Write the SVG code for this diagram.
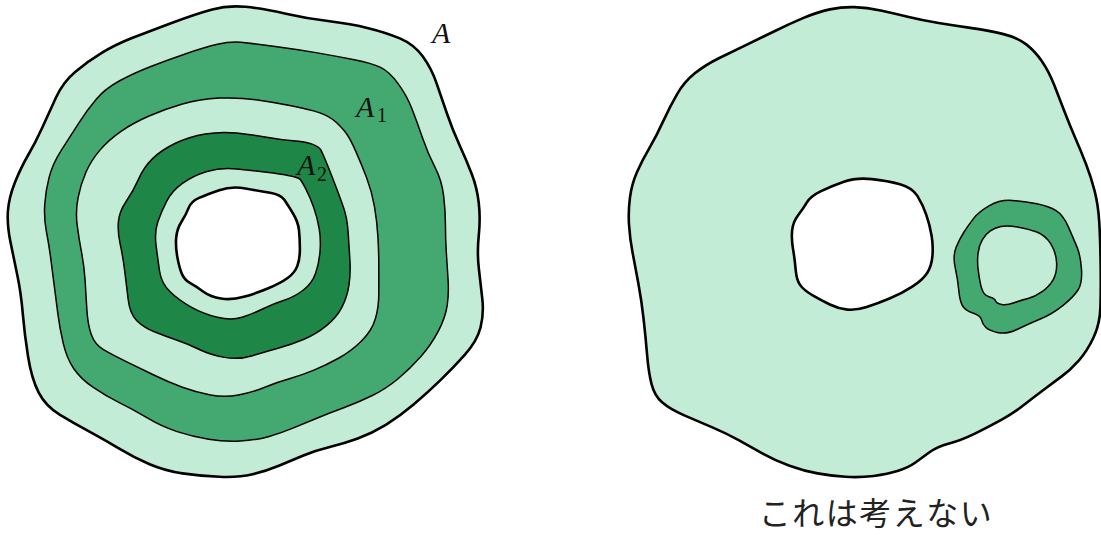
<svg xmlns="http://www.w3.org/2000/svg" width="1101" height="535" viewBox="0 0 1101 535">
<style>
.c{stroke:#000;stroke-linejoin:round;vector-effect:non-scaling-stroke}
.thick{stroke-width:2.6}
.thin{stroke-width:1.5}
.light{fill:#c3ecd6}
.mid{fill:#43a970}
.dark{fill:#1e8646}
.hole{fill:#fff}
.lbl{font-family:"Liberation Serif","Times New Roman",serif;font-style:italic;fill:#111}
.sub{font-family:"Liberation Serif","Times New Roman",serif;fill:#111}
.jp{font-family:"Noto Sans CJK JP","Noto Sans CJK SC",sans-serif;fill:#222}
</style>
<rect width="1101" height="535" fill="#fff"/>
<g id="left-figure" transform="scale(0.35075,0.34118)">
<path id="A" class="c thick light" d="M700,20 Q750,25 815,40 Q880,55 940,62.5 Q1000,70 1050,82.5 Q1100,95 1140,112.5 Q1180,130 1205,165 Q1230,200 1245,245 Q1260,290 1275,335 Q1290,380 1310,425 Q1330,470 1345,510 Q1360,550 1365,595 Q1370,640 1365,690 Q1360,740 1365,785 Q1370,830 1375,875 Q1380,920 1370,960 Q1360,1000 1325,1040 Q1290,1080 1255,1115 Q1220,1150 1180,1185 Q1140,1220 1100,1245 Q1060,1270 1020,1285 Q980,1300 940,1310 Q900,1320 865,1335 Q830,1350 795,1365 Q760,1380 720,1390 Q680,1400 625,1397.5 Q570,1395 520,1387.5 Q470,1380 425,1360 Q380,1340 340,1315 Q300,1290 255,1265 Q210,1240 170,1215 Q130,1190 110,1150 Q90,1110 80,1045 Q70,980 65,920 Q60,860 50,810 Q40,760 30,710 Q20,660 22.5,620 Q25,580 42.5,535 Q60,490 80,455 Q100,420 120,375 Q140,330 160,285 Q180,240 215,210 Q250,180 290,155 Q330,130 380,110 Q430,90 495,65 Q560,40 605,27.5 Q650,15 700,20 Z"/>
<path id="A1-outer" class="c thin mid" d="M700,125 Q740,130 795,137.5 Q850,145 905,155 Q960,165 1010,175 Q1060,185 1085,197.5 Q1110,210 1135,245 Q1160,280 1175,320 Q1190,360 1205,405 Q1220,450 1240,490 Q1260,530 1265,575 Q1270,620 1270,660 Q1270,700 1272.5,740 Q1275,780 1277.5,820 Q1280,860 1275,895 Q1270,930 1250,970 Q1230,1010 1200,1045 Q1170,1080 1135,1110 Q1100,1140 1060,1160 Q1020,1180 980,1195 Q940,1210 905,1225 Q870,1240 835,1255 Q800,1270 765,1280 Q730,1290 685,1292.5 Q640,1295 595,1287.5 Q550,1280 505,1265 Q460,1250 420,1225 Q380,1200 340,1180 Q300,1160 265,1135 Q230,1110 210,1080 Q190,1050 180,1005 Q170,960 165,920 Q160,880 155,840 Q150,800 145,760 Q140,720 132.5,680 Q125,640 127.5,600 Q130,560 140,520 Q150,480 175,440 Q200,400 225,360 Q250,320 275,290 Q300,260 340,237.5 Q380,215 430,195 Q480,175 530,157.5 Q580,140 620,130 Q660,120 700,125 Z"/>
<path id="A1-inner" class="c thin light" d="M625,287.5 Q680,285 730,292.5 Q780,300 830,310 Q880,320 910,330 Q940,340 960,360 Q980,380 990,395 Q1000,410 1015,445 Q1030,480 1045,520 Q1060,560 1067.5,605 Q1075,650 1077.5,695 Q1080,740 1080,780 Q1080,820 1080,860 Q1080,900 1070,935 Q1060,970 1030,1000 Q1000,1030 965,1050 Q930,1070 895,1085 Q860,1100 825,1110 Q790,1120 755,1135 Q720,1150 680,1157.5 Q640,1165 600,1157.5 Q560,1150 520,1135 Q480,1120 440,1100 Q400,1080 360,1060 Q320,1040 295,1025 Q270,1010 260,980 Q250,950 247.5,905 Q245,860 242.5,820 Q240,780 232.5,740 Q225,700 220,660 Q215,620 222.5,580 Q230,540 245,505 Q260,470 285,440 Q310,410 345,385 Q380,360 425,340 Q470,320 520,305 Q570,290 625,287.5 Z"/>
<path id="A2-outer" class="c thin dark" d="M675,390 Q720,395 760,402.5 Q800,410 835,412.5 Q870,415 890,422.5 Q910,430 915,440 Q920,450 930,475 Q940,500 955,540 Q970,580 980,610 Q990,640 992.5,680 Q995,720 997.5,760 Q1000,800 995,835 Q990,870 975,900 Q960,930 930,955 Q900,980 865,995 Q830,1010 795,1020 Q760,1030 720,1042.5 Q680,1055 640,1047.5 Q600,1040 570,1025 Q540,1010 505,997.5 Q470,985 440,972.5 Q410,960 390,940 Q370,920 365,875 Q360,830 355,790 Q350,750 342.5,715 Q335,680 337.5,650 Q340,620 360,590 Q380,560 395,525 Q410,490 435,465 Q460,440 500,420 Q540,400 585,392.5 Q630,385 675,390 Z"/>
<path id="A2-inner" class="c thin light" d="M675,495 Q720,500 760,505 Q800,510 825,515 Q850,520 855,525 Q860,530 872.5,555 Q885,580 895,610 Q905,640 910,670 Q915,700 912.5,735 Q910,770 900,800 Q890,830 865,850 Q840,870 810,880 Q780,890 750,905 Q720,920 690,930 Q660,940 620,930 Q580,920 545,900 Q510,880 485,855 Q460,830 455,795 Q450,760 445,720 Q440,680 450,650 Q460,620 475,590 Q490,560 520,537.5 Q550,515 590,502.5 Q630,490 675,495 Z"/>
<path id="hole-left" class="c thick hole" d="M700,552.5 Q740,560 770,565 Q800,570 810,585 Q820,600 835,625 Q850,650 852.5,675 Q855,700 855,730 Q855,760 847.5,780 Q840,800 820,815 Q800,830 765,845 Q730,860 695,870 Q660,880 630,875 Q600,870 580,855 Q560,840 542.5,830 Q525,820 517.5,800 Q510,780 505,750 Q500,720 502.5,695 Q505,670 517.5,650 Q530,630 537.5,610 Q545,590 567.5,580 Q590,570 625,557.5 Q660,545 700,552.5 Z"/>
</g>
<g id="labels">
<text class="lbl" x="432" y="43" font-size="30">A</text>
<text class="lbl" x="356" y="117" font-size="30">A</text>
<text class="sub" x="377" y="122" font-size="20">1</text>
<text class="lbl" x="297" y="175" font-size="30">A</text>
<text class="sub" x="317" y="181" font-size="20">2</text>
</g>
<g id="right-figure" transform="translate(551,0) scale(0.35075,0.34118)">
<path id="B" class="c thick light" d="M865,21 Q900,22 940,31 Q980,40 1020,50 Q1060,60 1105,67.5 Q1150,75 1200,82.5 Q1250,90 1290,100 Q1330,110 1355,130 Q1380,150 1400,180 Q1420,210 1435,250 Q1450,290 1465,330 Q1480,370 1495,405 Q1510,440 1525,480 Q1540,520 1550,560 Q1560,600 1563,650 Q1566,700 1567,775 Q1568,850 1566.5,900 Q1565,950 1546.5,990 Q1528,1030 1504,1057.5 Q1480,1085 1455,1104 Q1430,1123 1402,1144.5 Q1374,1166 1347,1188 Q1320,1210 1285,1230 Q1250,1250 1210,1270 Q1170,1290 1135,1300 Q1100,1310 1080,1325 Q1060,1340 1040,1355 Q1020,1370 990,1380 Q960,1390 920,1395 Q880,1400 840,1397.5 Q800,1395 760,1387.5 Q720,1380 680,1365 Q640,1350 605,1330 Q570,1310 535,1290 Q500,1270 460,1252.5 Q420,1235 380,1217.5 Q340,1200 317.5,1180 Q295,1160 286.5,1125 Q278,1090 274,1040 Q270,990 264,935 Q258,880 249,830 Q240,780 232.5,740 Q225,700 222.5,660 Q220,620 225,580 Q230,540 245,505 Q260,470 280,435 Q300,400 320,355 Q340,310 360,275 Q380,240 410,215 Q440,190 480,170 Q520,150 560,130 Q600,110 640,90 Q680,70 720,52.5 Q760,35 795,27.5 Q830,20 865,21 Z"/>
<path id="hole-right" class="c thick hole" d="M915,525 Q960,530 995,540 Q1030,550 1045,575 Q1060,600 1070,630 Q1080,660 1085,690 Q1090,720 1087.5,750 Q1085,780 1072.5,800 Q1060,820 1030,840 Q1000,860 965,875 Q930,890 900,900 Q870,910 845,907.5 Q820,905 795,892.5 Q770,880 745,865 Q720,850 710,835 Q700,820 697.5,790 Q695,760 690,730 Q685,700 687.5,675 Q690,650 705,630 Q720,610 730,592.5 Q740,575 770,560 Q800,545 835,532.5 Q870,520 915,525 Z"/>
<path id="ring-outer" class="c thin mid" d="M1315,587.5 Q1350,590 1385,597.5 Q1420,605 1440,617.5 Q1460,630 1475,665 Q1490,700 1500,725 Q1510,750 1512.5,790 Q1515,830 1502.5,850 Q1490,870 1460,895 Q1430,920 1395,935 Q1360,950 1330,965 Q1300,980 1275,975 Q1250,970 1240,960 Q1230,950 1227.5,937.5 Q1225,925 1202.5,917.5 Q1180,910 1172.5,895 Q1165,880 1162.5,850 Q1160,820 1152.5,785 Q1145,750 1155,725 Q1165,700 1177.5,680 Q1190,660 1205,640 Q1220,620 1250,602.5 Q1280,585 1315,587.5 Z"/>
<path id="ring-inner" class="c thin light" d="M1330,665 Q1360,670 1385,680 Q1410,690 1425,715 Q1440,740 1441.5,770 Q1443,800 1431.5,820 Q1420,840 1400,855 Q1380,870 1360,875 Q1340,880 1320,887.5 Q1300,895 1285,892.5 Q1270,890 1267.5,882.5 Q1265,875 1252.5,871.5 Q1240,868 1234,859 Q1228,850 1224,830 Q1220,810 1217.5,787.5 Q1215,765 1217.5,742.5 Q1220,720 1230,702.5 Q1240,685 1252.5,676.5 Q1265,668 1282.5,664 Q1300,660 1330,665 Z"/>
</g>
<g id="caption">
<text class="jp" x="876" y="525" font-size="32" text-anchor="middle" letter-spacing="1.5">これは考えない</text>
</g>
</svg>
